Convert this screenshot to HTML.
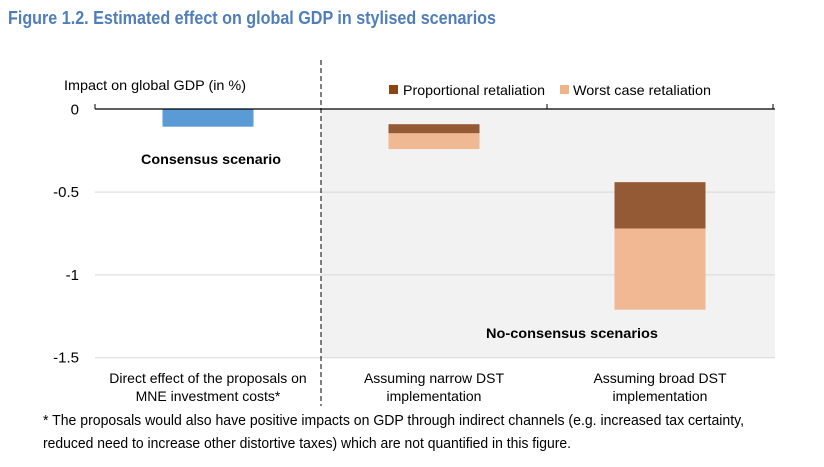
<!DOCTYPE html>
<html><head><meta charset="utf-8"><style>
body{margin:0;background:#fff;width:824px;height:467px;overflow:hidden}
svg{display:block;font-family:"Liberation Sans",Arial,sans-serif}
</style></head><body>
<svg id="chart" width="824" height="467" viewBox="0 0 824 467">
<text x="8" y="24" font-size="18" font-weight="bold" fill="#4f7ebb" textLength="488" lengthAdjust="spacingAndGlyphs">Figure 1.2. Estimated effect on global GDP in stylised scenarios</text>
<rect x="321" y="109" width="454" height="249" fill="#f2f2f2"/>
<g id="grid"></g>
<g id="bars"></g>
<line x1="95" y1="109" x2="775" y2="109" stroke="#000" stroke-width="1.2"/>
<line x1="95" y1="104" x2="95" y2="109" stroke="#000"/>
<line x1="547" y1="104" x2="547" y2="109" stroke="#000"/>
<line x1="773" y1="104" x2="773" y2="109" stroke="#000"/>
<line x1="321" y1="60" x2="321" y2="406" stroke="#000" stroke-width="1" stroke-dasharray="5,3"/>
<text x="64" y="90" font-size="14" fill="#000" textLength="182" lengthAdjust="spacingAndGlyphs">Impact on global GDP (in %)</text>
<g id="yticks" font-size="15" text-anchor="end"></g>
<g>
<rect x="389" y="85" width="9" height="9" fill="#8b4513"/>
<text x="403" y="95" font-size="14" textLength="142" lengthAdjust="spacingAndGlyphs">Proportional retaliation</text>
<rect x="560" y="85" width="9" height="9" fill="#f0b48a"/>
<text x="573" y="95" font-size="14" textLength="138" lengthAdjust="spacingAndGlyphs">Worst case retaliation</text>
</g>
<text x="211" y="164" font-size="14" font-weight="bold" text-anchor="middle" textLength="140" lengthAdjust="spacingAndGlyphs">Consensus scenario</text>
<text x="572" y="338" font-size="14" font-weight="bold" text-anchor="middle" textLength="172" lengthAdjust="spacingAndGlyphs">No-consensus scenarios</text>
<g id="xlabels" font-size="14" text-anchor="middle"></g>
<text x="43" y="425" font-size="15" textLength="701" lengthAdjust="spacingAndGlyphs">* The proposals would also have positive impacts on GDP through indirect channels (e.g. increased tax certainty,</text>
<text x="43" y="448" font-size="15" textLength="528" lengthAdjust="spacingAndGlyphs">reduced need to increase other distortive taxes) which are not quantified in this figure.</text>
</svg>
<script>
const categories = ["Direct effect of the proposals on|MNE investment costs*", "Assuming narrow DST|implementation", "Assuming broad DST|implementation"];
const directEffect = [-0.105, 0, 0];
const baseLevel = [0, -0.09, -0.44];
const proportional = [0, -0.055, -0.28];
const worstCase = [0, -0.095, -0.49];
const yTicks = [0, -0.5, -1, -1.5];
const yTickLabels = ["0", "-0.5", "-1", "-1.5"];

const NS = "http://www.w3.org/2000/svg";
const x0 = 95, x1 = 773, yTop = 109.3, yBot = 357.7;
const yMin = -1.5, yMax = 0;
const y = v => yTop + (yMax - v) / (yMax - yMin) * (yBot - yTop);
const band = (x1 - x0) / categories.length;
const xc = i => x0 + band * (i + 0.5);
const barW = 91;
function mk(tag, attrs, parent) { const e = document.createElementNS(NS, tag); for (const k in attrs) e.setAttribute(k, attrs[k]); parent.appendChild(e); return e; }
const grid = document.getElementById('grid'), bars = document.getElementById('bars'), yt = document.getElementById('yticks'), xl = document.getElementById('xlabels');
yTicks.forEach((t, i) => {
  if (t !== 0) {
    const g = mk('line', {x1: x0, x2: 775, y1: y(t), y2: y(t), stroke: '#d9d9d9', 'stroke-width': 1}, grid);
    
    
  }
  const tx = mk('text', {x: 79, y: y(t) + 5}, yt);
  tx.textContent = yTickLabels[i];
  
  
});
function rect(i, a, b, fill, name) {
  const top = Math.min(y(a), y(b)), h = Math.abs(y(a) - y(b));
  if (h <= 0) return;
  const r = mk('rect', {x: xc(i) - barW / 2, y: top, width: barW, height: h, fill: fill}, bars);
  
  
}
categories.forEach((c, i) => {
  rect(i, 0, directEffect[i], '#5b9bd5', 'bar-direct-effect');
  const p = baseLevel[i] + proportional[i];
  rect(i, baseLevel[i], p, '#935a35', 'bar-proportional-' + i);
  rect(i, p, p + worstCase[i], '#f0b893', 'bar-worst-case-' + i);
  c.split('|').forEach((line, j) => {
    const t = mk('text', {x: xc(i), y: 383 + j * 18}, xl);
    t.textContent = line;
    
    
  });
});
</script>
</body></html>
